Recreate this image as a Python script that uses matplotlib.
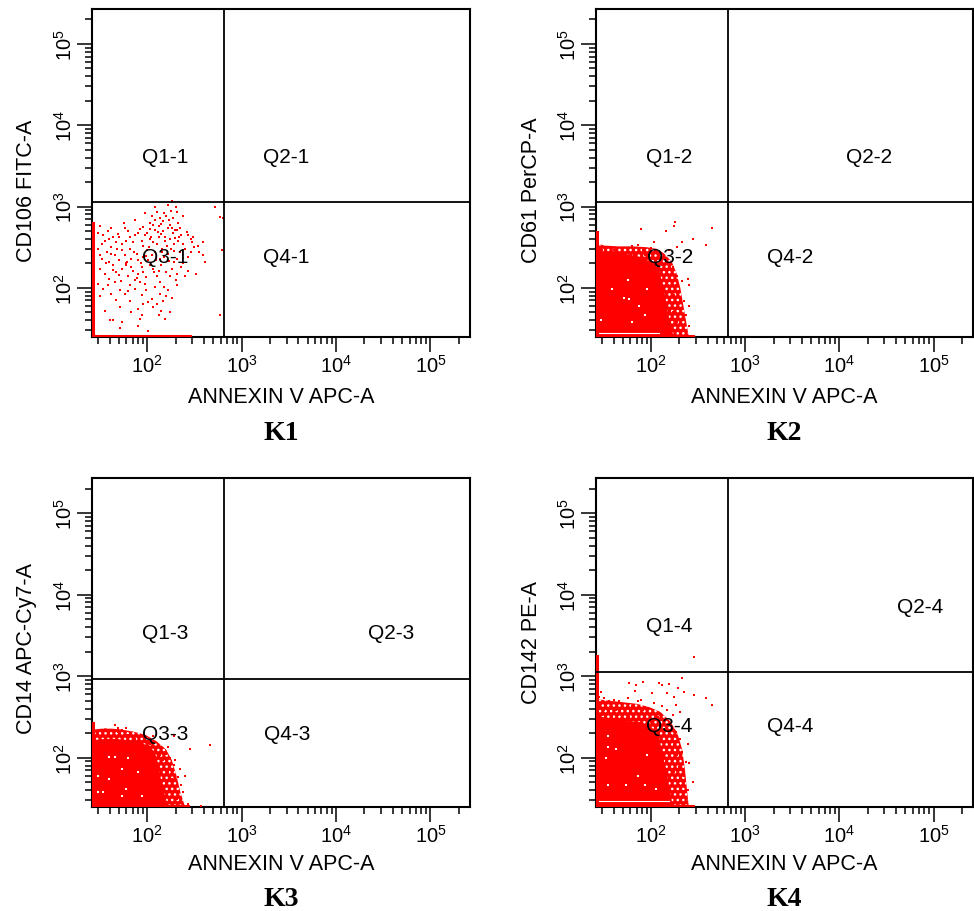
import numpy as np
import matplotlib
matplotlib.use("Agg")
import matplotlib.pyplot as plt
from matplotlib.ticker import LogLocator, NullFormatter

plt.rcParams['font.family'] = ['Liberation Sans', 'DejaVu Sans']
plt.rcParams['mathtext.fontset'] = 'custom'
plt.rcParams['mathtext.rm'] = 'Liberation Sans'
plt.rcParams['hatch.linewidth'] = 1.0

# all event values are in log10 units (decades)
panels = ['K1', 'K2', 'K3', 'K4']
x_label = 'ANNEXIN V APC-A'
y_labels = ['CD106 FITC-A', 'CD61 PerCP-A', 'CD14 APC-Cy7-A', 'CD142 PE-A']
quad_x = [2.815, 2.815, 2.815, 2.815]   # gate on annexin V
quad_y = [3.05, 3.05, 2.96, 3.05]       # gate on marker

# events piled on the left edge (top of pile) and along the bottom (end of pile)
left_pile_top = [2.80, 2.69, 2.43, 3.25]
bottom_pile_end = [2.45, 2.44, 2.43, 2.44]

# K1: sparse events
k1_lx = [2.26, 2.22, 2.08, 2.30, 2.72, 2.77, 2.80,
         2.05, 2.13, 2.18, 2.31, 2.23, 2.17, 2.08, 2.33, 2.03, 1.87, 1.75, 2.24, 2.26, 2.22, 1.50, 1.62, 1.76, 1.96, 1.92, 2.03, 2.08, 2.17, 2.29, 2.42, 2.43, 2.36, 2.49,
         1.48, 1.53, 1.59, 1.64, 1.69, 1.82, 1.87, 1.94, 1.98, 2.03, 2.06, 2.10, 2.12, 2.19, 2.24, 2.28, 2.33, 2.38, 2.47, 2.54, 2.59, 1.52, 1.73, 1.78, 1.67,
         1.48, 1.57, 1.62, 1.66, 1.73, 1.76, 1.82, 1.83, 1.89, 1.90, 1.96, 2.01, 2.08, 2.13, 2.22, 2.28, 2.35, 2.43, 2.50, 2.59, 2.61, 2.79, 1.52, 1.59,
         1.50, 1.55, 1.64, 1.67, 1.73, 1.80, 1.85, 1.90, 1.94, 1.99, 2.06, 2.10, 2.15, 2.20, 2.26, 2.31, 2.36, 2.43, 2.52, 1.78, 1.59,
         1.48, 1.53, 1.66, 1.71, 1.76, 1.82, 1.87, 1.92, 1.94, 1.99, 2.05, 2.08, 2.13, 2.17, 2.22, 2.26, 2.31, 2.01, 2.10,
         1.55, 1.71, 1.82, 1.90, 2.06, 2.15, 2.24, 1.94, 1.73, 1.61, 1.64, 2.77, 1.90, 2.01, 1.71, 1.92,
         2.15, 2.20, 2.27, 2.12, 2.35, 2.00, 2.15, 2.27, 1.90, 1.80, 1.70, 1.58, 1.55, 1.85, 1.96, 2.00, 2.16, 2.25, 2.40, 2.46,
         1.68, 1.62, 1.70, 1.79, 1.86, 2.05, 2.18, 2.32, 2.38, 1.56, 1.64, 1.70, 1.83, 1.96, 2.03, 2.12, 2.24, 2.30, 1.58, 1.72,
         1.87, 1.98, 2.14, 2.20, 1.80, 1.62, 1.67, 1.95, 2.12, 2.19, 1.83, 1.50, 1.50, 2.46, 2.55, 2.40, 1.98, 2.38, 2.25, 2.10,
         2.11, 2.19, 2.29, 2.06, 2.21, 2.16, 2.09, 2.02, 1.93, 2.28, 2.34, 2.23, 2.07, 1.99, 2.18, 1.89, 1.77, 2.14, 2.32, 2.04]
k1_ly = [3.07, 3.02, 3.00, 2.99, 3.00, 2.87, 2.86,
         2.88, 2.86, 2.92, 2.93, 2.84, 2.82, 2.83, 2.80, 2.80, 2.84, 2.80, 2.77, 2.74, 2.73, 2.76, 2.73, 2.74, 2.75, 2.72, 2.72, 2.71, 2.70, 2.71, 2.69, 2.65, 2.65, 2.63,
         2.67, 2.65, 2.60, 2.63, 2.66, 2.63, 2.65, 2.58, 2.65, 2.60, 2.56, 2.54, 2.63, 2.58, 2.60, 2.54, 2.58, 2.54, 2.56, 2.52, 2.56, 2.54, 2.54, 2.58, 2.56,
         2.48, 2.44, 2.50, 2.40, 2.46, 2.40, 2.48, 2.36, 2.42, 2.34, 2.38, 2.34, 2.44, 2.36, 2.42, 2.32, 2.44, 2.38, 2.50, 2.40, 2.32, 2.46, 2.36, 2.32,
         2.23, 2.17, 2.28, 2.19, 2.23, 2.15, 2.21, 2.17, 2.26, 2.13, 2.23, 2.15, 2.28, 2.19, 2.23, 2.17, 2.26, 2.21, 2.17, 2.28, 2.11,
         2.05, 1.99, 2.07, 1.97, 1.93, 2.03, 1.99, 2.07, 1.91, 1.97, 1.86, 2.01, 1.93, 1.84, 1.97, 1.88, 2.03, 1.82, 1.80,
         1.72, 1.76, 1.84, 1.74, 1.76, 1.72, 1.70, 1.66, 1.58, 1.60, 1.60, 1.67, 1.53, 1.47, 1.51, 1.62,
         2.78, 2.88, 2.86, 2.76, 2.74, 2.68, 2.66, 2.67, 2.68, 2.70, 2.62, 2.70, 2.58, 2.56, 2.52, 2.46, 2.48, 2.48, 2.48, 2.44,
         2.48, 2.42, 2.34, 2.32, 2.44, 2.40, 2.38, 2.36, 2.30, 2.30, 2.22, 2.16, 2.25, 2.20, 2.28, 2.21, 2.15, 2.10, 2.04, 2.08,
         2.10, 2.05, 2.07, 1.90, 1.96, 1.93, 1.85, 1.80, 1.66, 1.62, 1.70, 1.90, 2.40, 2.60, 2.44, 2.14, 2.92, 2.88, 2.95, 2.93,
         2.69, 2.62, 2.61, 2.77, 2.52, 2.44, 2.34, 2.50, 2.30, 2.45, 2.62, 2.33, 2.20, 2.39, 2.01, 2.12, 2.31, 2.86, 2.71, 2.63]

# K2: solid core, speckled halo, outliers
k2_core_lx = [1.40, 1.40, 1.48, 1.55, 1.66, 1.77, 1.87, 1.96, 2.05, 2.09, 2.12, 2.15, 2.17, 2.20, 2.24]
k2_core_ly = [1.40, 2.44, 2.42, 2.45, 2.42, 2.41, 2.38, 2.34, 2.28, 2.20, 2.05, 1.90, 1.75, 1.58, 1.40]
k2_halo_lx = [1.40, 1.40, 1.50, 1.65, 1.80, 1.95, 2.06, 2.14, 2.22, 2.27, 2.31, 2.34, 2.37, 2.40]
k2_halo_ly = [1.40, 2.56, 2.52, 2.51, 2.51, 2.50, 2.48, 2.42, 2.32, 2.18, 2.00, 1.80, 1.60, 1.40]
k2_lx = [1.52, 1.61, 1.70, 1.80, 1.86, 1.91, 2.00, 2.05, 1.75, 1.48, 1.66, 1.82, 1.94, 2.08, 2.14, 2.19, 2.28, 2.33, 2.03, 2.16, 2.25, 2.24, 1.89, 2.65, 2.58, 2.44,
         2.12, 2.17, 2.23, 2.28, 2.19, 2.26, 2.33, 2.39, 2.31, 2.24, 2.35, 2.40, 2.30, 2.23, 2.37, 2.28, 2.40, 2.19, 2.33, 2.14, 2.16, 2.10, 2.40]
k2_ly = [2.49, 2.46, 2.49, 2.51, 2.53, 2.46, 2.49, 2.44, 2.44, 2.46, 2.40, 2.40, 2.40, 2.40, 2.36, 2.46, 2.50, 2.56, 2.56, 2.70, 2.81, 2.76, 2.72, 2.74, 2.53, 2.60,
         2.28, 2.21, 2.26, 2.15, 2.11, 2.03, 2.09, 2.11, 1.95, 1.91, 1.84, 2.03, 1.74, 1.70, 1.66, 1.58, 1.53, 1.51, 1.47, 1.62, 1.78, 1.53, 1.78]
k2_gap_lx = [1.71, 1.80, 1.87, 1.94, 1.59, 1.75, 1.96, 1.47, 1.77]
k2_gap_ly = [1.87, 1.58, 1.78, 1.66, 1.99, 2.10, 1.99, 1.60, 1.86]

# K3
k3_core_lx = [1.40, 1.40, 1.55, 1.66, 1.76, 1.90, 2.01, 2.08, 2.12, 2.15, 2.19, 2.22]
k3_core_ly = [1.40, 2.21, 2.23, 2.23, 2.22, 2.19, 2.15, 2.07, 1.91, 1.70, 1.53, 1.40]
k3_halo_lx = [1.40, 1.40, 1.55, 1.70, 1.85, 1.98, 2.10, 2.20, 2.26, 2.31, 2.35, 2.40]
k3_halo_ly = [1.40, 2.34, 2.36, 2.35, 2.32, 2.28, 2.20, 2.10, 1.97, 1.78, 1.58, 1.40]
k3_lx = [1.66, 1.69, 1.73, 1.78, 1.83, 1.87, 1.92, 1.98, 2.03, 2.08, 2.06, 2.22, 2.28, 2.45, 2.66, 1.48, 1.53, 1.59, 1.62, 1.80, 1.69,
         2.13, 2.17, 2.20, 2.24, 2.29, 2.28, 2.35, 2.22, 2.26, 2.33, 2.40, 2.20, 2.29, 2.24, 2.38, 2.31, 2.19, 2.26, 2.43, 2.57, 2.15, 2.36]
k3_ly = [2.40, 2.32, 2.34, 2.37, 2.28, 2.23, 2.19, 2.23, 2.17, 2.13, 2.26, 2.13, 2.26, 2.11, 2.16, 2.30, 2.28, 2.33, 2.26, 2.28, 2.37,
         2.03, 1.97, 2.05, 1.99, 1.97, 1.91, 1.86, 1.82, 1.74, 1.76, 1.78, 1.68, 1.62, 1.58, 1.58, 1.49, 1.49, 1.43, 1.43, 1.41, 1.86, 1.66]
k3_gap_lx = [1.48, 1.59, 1.73, 1.80, 1.90, 1.48, 1.53, 1.73, 1.78, 1.94, 1.66, 1.59]
k3_gap_ly = [1.78, 1.74, 1.86, 1.99, 1.82, 1.58, 1.58, 1.53, 1.62, 1.53, 2.01, 2.01]

# K4
k4_core_lx = [1.40, 1.40, 1.48, 1.59, 1.73, 1.87, 1.96, 2.03, 2.08, 2.11, 2.14, 2.17, 2.19, 2.21, 2.23]
k4_core_ly = [1.40, 2.55, 2.50, 2.46, 2.45, 2.44, 2.40, 2.35, 2.28, 2.11, 1.95, 1.80, 1.66, 1.53, 1.40]
k4_halo_lx = [1.40, 1.40, 1.55, 1.70, 1.85, 1.98, 2.10, 2.20, 2.28, 2.33, 2.36, 2.38, 2.40]
k4_halo_ly = [1.40, 2.72, 2.70, 2.68, 2.66, 2.62, 2.56, 2.45, 2.30, 2.10, 1.85, 1.62, 1.40]
k4_lx = [2.46, 1.77, 1.84, 1.91, 1.83, 2.08, 2.12, 2.01, 2.17, 2.24, 2.29, 2.33, 2.35, 2.46, 2.58, 2.65, 2.19,
         1.50, 1.55, 1.61, 1.66, 1.75, 1.86, 1.89, 2.03, 2.12, 2.17, 2.26, 2.31, 2.23, 1.52, 1.63, 1.71, 1.80, 1.91, 1.98,
         1.48, 1.59, 1.70, 1.77, 1.87, 2.07, 2.12, 1.66, 1.84, 2.00,
         1.46, 1.48, 1.50, 1.53, 1.56, 1.45, 1.47, 1.58, 1.62, 1.65,
         2.16, 2.21, 2.26, 2.31, 2.39, 2.24, 2.33, 2.28, 2.23, 2.37, 2.30, 2.24, 2.35, 2.20, 2.44, 2.30, 2.39, 2.24, 2.33, 2.17, 2.40, 2.19]
k4_ly = [3.23, 2.91, 2.89, 2.93, 2.82, 2.91, 2.89, 2.79, 2.79, 2.75, 2.86, 2.98, 2.81, 2.77, 2.73, 2.65, 2.90,
         2.73, 2.69, 2.71, 2.69, 2.73, 2.69, 2.71, 2.67, 2.63, 2.58, 2.65, 2.56, 2.52, 2.63, 2.58, 2.60, 2.63, 2.58, 2.54,
         2.52, 2.50, 2.54, 2.50, 2.52, 2.50, 2.46, 2.46, 2.46, 2.44,
         2.60, 2.68, 2.58, 2.55, 2.62, 2.75, 2.80, 2.52, 2.55, 2.52,
         2.36, 2.28, 2.32, 2.23, 2.17, 2.15, 2.07, 2.03, 1.99, 1.95, 1.88, 1.82, 1.78, 1.74, 1.70, 1.66, 1.60, 1.58, 1.53, 1.51, 1.93, 2.19]
k4_gap_lx = [1.54, 1.54, 1.63, 1.54, 1.73, 1.86, 1.94, 2.05, 1.96, 1.52]
k4_gap_ly = [2.26, 2.13, 2.11, 1.66, 1.66, 1.78, 1.66, 1.62, 2.03, 1.99]

# white stripe just above the bottom pile (K2, K4): (y, x start, x end)
gap_line = [None, (1.45, 1.43, 2.08), None, (1.47, 1.45, 2.19)]

cores = [None, (k2_core_lx, k2_core_ly), (k3_core_lx, k3_core_ly), (k4_core_lx, k4_core_ly)]
halos = [None, (k2_halo_lx, k2_halo_ly), (k3_halo_lx, k3_halo_ly), (k4_halo_lx, k4_halo_ly)]
events = [(k1_lx, k1_ly), (k2_lx, k2_ly), (k3_lx, k3_ly), (k4_lx, k4_ly)]
gaps = [None, (k2_gap_lx, k2_gap_ly), (k3_gap_lx, k3_gap_ly), (k4_gap_lx, k4_gap_ly)]

# quadrant label positions (log10)
quad_pos = [
    [(2.19, 3.62), (3.47, 3.62), (2.19, 2.38), (3.47, 2.38)],
    [(2.19, 3.62), (4.31, 3.62), (2.20, 2.39), (3.48, 2.39)],
    [(2.19, 3.53), (4.58, 3.53), (2.19, 2.30), (3.48, 2.30)],
    [(2.19, 3.62), (4.86, 3.85), (2.19, 2.39), (3.48, 2.39)],
]

W, H = 974, 912
boxes = [(92, 10, 470, 338), (596, 10, 973, 338), (92, 479, 470, 808), (596, 479, 973, 808)]
ylab_pos = [(-0.146, 0.448), (-0.143, 0.451), (-0.146, 0.484), (-0.143, 0.502)]
xlab_y = [-0.149, -0.149, -0.140, -0.140]
title_y = [434, 434, 900, 900]
red = '#ff0000'

fig = plt.figure(figsize=(W / 100, H / 100), dpi=100)
for i, name in enumerate(panels):
    l, t, r, b = boxes[i]
    ax = fig.add_axes([l / W, 1 - b / H, (r - l) / W, (b - t) / H])
    ax.set_xscale('log')
    ax.set_yscale('log')
    ax.set_xlim(10 ** 1.415, 10 ** 5.4185)
    ax.set_ylim(10 ** 1.395, 10 ** 5.43)

    if halos[i] is not None:
        # speckled rim of the cloud: red with white gaps
        hx, hy = halos[i]
        ax.fill(10 ** np.array(hx), 10 ** np.array(hy), facecolor=red, edgecolor='white',
                hatch='...', lw=0, zorder=1)
    if cores[i] is not None:
        cx, cy = cores[i]
        ax.fill(10 ** np.array(cx), 10 ** np.array(cy), color=red, lw=0, zorder=2)
    ex, ey = events[i]
    ax.plot(10 ** np.array(ex), 10 ** np.array(ey), ls='none', marker='s', ms=1.8, mew=0, color=red, zorder=3)
    if gaps[i] is not None:
        gx, gy = gaps[i]
        ax.plot(10 ** np.array(gx), 10 ** np.array(gy), ls='none', marker='s', ms=1.5, mew=0, color='white', zorder=3)
    if gap_line[i] is not None:
        gly, g0, g1 = gap_line[i]
        ax.plot([10 ** g0, 10 ** g1], [10 ** gly, 10 ** gly], color='white', lw=0.8, zorder=3)
    # piles at the edges
    ax.plot([10 ** 1.425, 10 ** 1.425], [10 ** 1.395, 10 ** left_pile_top[i]], color=red, lw=2.2, zorder=3)
    ax.plot([10 ** 1.415, 10 ** bottom_pile_end[i]], [10 ** 1.41, 10 ** 1.41], color=red, lw=2.2, zorder=3)

    ax.axvline(10 ** quad_x[i], color='black', lw=1.3, zorder=4)
    ax.axhline(10 ** quad_y[i], color='black', lw=1.3, zorder=4)

    labels = ['Q1-', 'Q2-', 'Q3-', 'Q4-']
    for q, (qx, qy) in enumerate(quad_pos[i]):
        ax.text(10 ** qx, 10 ** qy, labels[q] + str(i + 1), ha='center', va='center', fontsize=15, zorder=5)

    majors = [1e2, 1e3, 1e4, 1e5]
    mlabels = [r'$10^{%d}$' % k for k in (2, 3, 4, 5)]
    ax.set_xticks(majors, labels=mlabels)
    ax.set_yticks(majors, labels=mlabels)
    for ax_ in (ax.xaxis, ax.yaxis):
        ax_.set_minor_locator(LogLocator(base=10, subs=range(2, 10), numticks=30))
        ax_.set_minor_formatter(NullFormatter())
    for lbl in ax.get_yticklabels():
        lbl.set_rotation(90)
        lbl.set_va('center')
    ax.tick_params(which='major', direction='out', length=11, width=1.1, labelsize=14.5, pad=1)
    ax.tick_params(which='minor', direction='out', length=5, width=1.1)
    for s in ax.spines.values():
        s.set_linewidth(1.5)

    ax.set_xlabel(x_label, fontsize=15.5)
    ax.xaxis.set_label_coords(0.5, xlab_y[i])
    ax.set_ylabel(y_labels[i], fontsize=15.5)
    ax.yaxis.set_label_coords(*ylab_pos[i])

    fig.text(((l + r) / 2) / W, 1 - title_y[i] / H, name, fontfamily='Liberation Serif',
             fontweight='bold', fontsize=20, ha='center', va='center')

fig.savefig('out.png', dpi=100)
